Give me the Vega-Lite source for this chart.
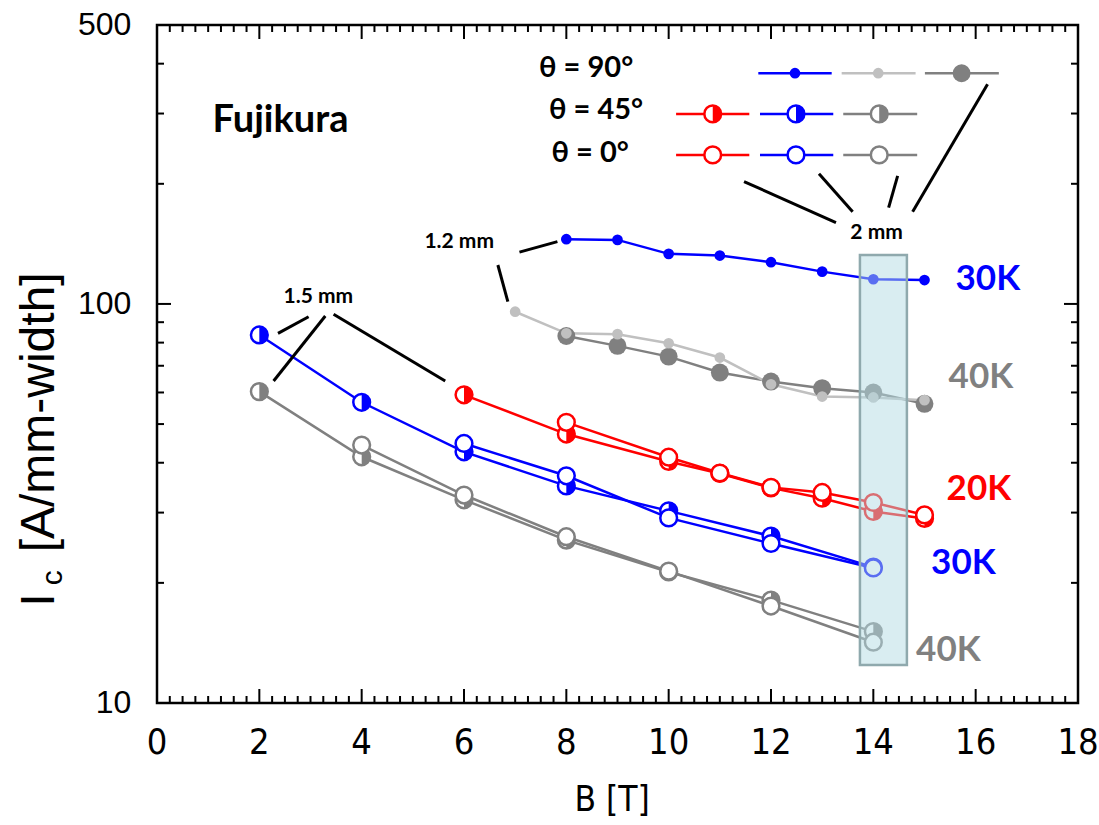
{
  "$schema": "https://vega.github.io/schema/vega-lite/v6.json",
  "width": 921,
  "height": 678,
  "autosize": "none",
  "padding": {"left": 157, "top": 25, "right": 21, "bottom": 122},
  "background": "white",
  "config": {
    "view": {"stroke": "black", "strokeWidth": 2.5},
    "axis": {"grid": false, "domain": false, "ticks": false}
  },
  "datasets": {
    "pts": [
      {"sid": "s1", "curve": "30K", "angle": "90", "B": 8, "Ic": 145.3},
      {"sid": "s1", "curve": "30K", "angle": "90", "B": 9, "Ic": 144.7},
      {"sid": "s1", "curve": "30K", "angle": "90", "B": 10, "Ic": 133.5},
      {"sid": "s1", "curve": "30K", "angle": "90", "B": 11, "Ic": 132.2},
      {"sid": "s1", "curve": "30K", "angle": "90", "B": 12, "Ic": 127.2},
      {"sid": "s1", "curve": "30K", "angle": "90", "B": 13, "Ic": 120.5},
      {"sid": "s1", "curve": "30K", "angle": "90", "B": 14, "Ic": 115.3},
      {"sid": "s1", "curve": "30K", "angle": "90", "B": 15, "Ic": 114.8},
      {"sid": "s3", "curve": "40K", "angle": "90", "B": 8, "Ic": 83.1},
      {"sid": "s3", "curve": "40K", "angle": "90", "B": 9, "Ic": 78.5},
      {"sid": "s3", "curve": "40K", "angle": "90", "B": 10, "Ic": 73.8},
      {"sid": "s3", "curve": "40K", "angle": "90", "B": 11, "Ic": 67.3},
      {"sid": "s3", "curve": "40K", "angle": "90", "B": 12, "Ic": 63.9},
      {"sid": "s3", "curve": "40K", "angle": "90", "B": 13, "Ic": 61.5},
      {"sid": "s3", "curve": "40K", "angle": "90", "B": 14, "Ic": 60.0},
      {"sid": "s3", "curve": "40K", "angle": "90", "B": 15, "Ic": 56.2},
      {"sid": "s2", "curve": "40K-1.2mm", "angle": "90", "B": 7, "Ic": 95.6},
      {"sid": "s2", "curve": "40K-1.2mm", "angle": "90", "B": 8, "Ic": 84.4},
      {"sid": "s2", "curve": "40K-1.2mm", "angle": "90", "B": 9, "Ic": 84.0},
      {"sid": "s2", "curve": "40K-1.2mm", "angle": "90", "B": 10, "Ic": 79.7},
      {"sid": "s2", "curve": "40K-1.2mm", "angle": "90", "B": 11, "Ic": 73.4},
      {"sid": "s2", "curve": "40K-1.2mm", "angle": "90", "B": 12, "Ic": 62.9},
      {"sid": "s2", "curve": "40K-1.2mm", "angle": "90", "B": 13, "Ic": 58.6},
      {"sid": "s2", "curve": "40K-1.2mm", "angle": "90", "B": 14, "Ic": 58.3},
      {"sid": "s2", "curve": "40K-1.2mm", "angle": "90", "B": 15, "Ic": 57.4},
      {"sid": "s4", "curve": "20K", "angle": "45", "B": 6, "Ic": 59.2},
      {"sid": "s4", "curve": "20K", "angle": "45", "B": 8, "Ic": 47.2},
      {"sid": "s4", "curve": "20K", "angle": "45", "B": 10, "Ic": 40.3},
      {"sid": "s4", "curve": "20K", "angle": "45", "B": 11, "Ic": 37.6},
      {"sid": "s4", "curve": "20K", "angle": "45", "B": 12, "Ic": 34.6},
      {"sid": "s4", "curve": "20K", "angle": "45", "B": 13, "Ic": 32.6},
      {"sid": "s4", "curve": "20K", "angle": "45", "B": 14, "Ic": 30.2},
      {"sid": "s4", "curve": "20K", "angle": "45", "B": 15, "Ic": 29.0},
      {"sid": "s5", "curve": "20K", "angle": "0", "B": 8, "Ic": 50.5},
      {"sid": "s5", "curve": "20K", "angle": "0", "B": 10, "Ic": 41.3},
      {"sid": "s5", "curve": "20K", "angle": "0", "B": 11, "Ic": 37.7},
      {"sid": "s5", "curve": "20K", "angle": "0", "B": 12, "Ic": 34.7},
      {"sid": "s5", "curve": "20K", "angle": "0", "B": 13, "Ic": 33.7},
      {"sid": "s5", "curve": "20K", "angle": "0", "B": 14, "Ic": 31.8},
      {"sid": "s5", "curve": "20K", "angle": "0", "B": 15, "Ic": 29.6},
      {"sid": "s6", "curve": "30K", "angle": "45", "B": 2, "Ic": 83.6},
      {"sid": "s6", "curve": "30K", "angle": "45", "B": 4, "Ic": 56.7},
      {"sid": "s6", "curve": "30K", "angle": "45", "B": 6, "Ic": 42.6},
      {"sid": "s6", "curve": "30K", "angle": "45", "B": 8, "Ic": 35.0},
      {"sid": "s6", "curve": "30K", "angle": "45", "B": 10, "Ic": 30.3},
      {"sid": "s6", "curve": "30K", "angle": "45", "B": 12, "Ic": 26.2},
      {"sid": "s6", "curve": "30K", "angle": "45", "B": 14, "Ic": 21.9},
      {"sid": "s7", "curve": "30K", "angle": "0", "B": 6, "Ic": 44.7},
      {"sid": "s7", "curve": "30K", "angle": "0", "B": 8, "Ic": 37.1},
      {"sid": "s7", "curve": "30K", "angle": "0", "B": 10, "Ic": 29.1},
      {"sid": "s7", "curve": "30K", "angle": "0", "B": 12, "Ic": 25.1},
      {"sid": "s7", "curve": "30K", "angle": "0", "B": 14, "Ic": 21.8},
      {"sid": "s8", "curve": "40K", "angle": "45", "B": 2, "Ic": 60.3},
      {"sid": "s8", "curve": "40K", "angle": "45", "B": 4, "Ic": 41.4},
      {"sid": "s8", "curve": "40K", "angle": "45", "B": 6, "Ic": 32.3},
      {"sid": "s8", "curve": "40K", "angle": "45", "B": 8, "Ic": 25.6},
      {"sid": "s8", "curve": "40K", "angle": "45", "B": 10, "Ic": 21.3},
      {"sid": "s8", "curve": "40K", "angle": "45", "B": 12, "Ic": 18.1},
      {"sid": "s8", "curve": "40K", "angle": "45", "B": 14, "Ic": 15.1},
      {"sid": "s9", "curve": "40K", "angle": "0", "B": 4, "Ic": 44.3},
      {"sid": "s9", "curve": "40K", "angle": "0", "B": 6, "Ic": 33.2},
      {"sid": "s9", "curve": "40K", "angle": "0", "B": 8, "Ic": 26.1},
      {"sid": "s9", "curve": "40K", "angle": "0", "B": 10, "Ic": 21.4},
      {"sid": "s9", "curve": "40K", "angle": "0", "B": 12, "Ic": 17.5},
      {"sid": "s9", "curve": "40K", "angle": "0", "B": 14, "Ic": 14.2},
      {"sid": "L1", "curve": "30K", "angle": "90", "B": 12.469, "Ic": 378.6},
      {"sid": "L3", "curve": "40K", "angle": "90", "B": 15.725, "Ic": 378.6},
      {"sid": "L2", "curve": "40K-1.2mm", "angle": "90", "B": 14.096, "Ic": 378.6},
      {"sid": "L4", "curve": "20K", "angle": "45", "B": 10.861, "Ic": 299.4},
      {"sid": "L5", "curve": "30K", "angle": "45", "B": 12.488, "Ic": 299.4},
      {"sid": "L6", "curve": "40K", "angle": "45", "B": 14.115, "Ic": 299.4},
      {"sid": "L7", "curve": "20K", "angle": "0", "B": 10.861, "Ic": 236.3},
      {"sid": "L8", "curve": "30K", "angle": "0", "B": 12.488, "Ic": 236.3},
      {"sid": "L9", "curve": "40K", "angle": "0", "B": 14.115, "Ic": 236.3}
    ],
    "leg": [
      {"curve": "30K", "x": 11.752, "x2": 13.186, "y": 378.6},
      {"curve": "40K-1.2mm", "x": 13.381, "x2": 14.826, "y": 378.6},
      {"curve": "40K", "x": 15.008, "x2": 16.453, "y": 378.6},
      {"curve": "20K", "x": 10.145, "x2": 11.576, "y": 299.4},
      {"curve": "30K", "x": 11.785, "x2": 13.217, "y": 299.4},
      {"curve": "40K", "x": 13.412, "x2": 14.857, "y": 299.4},
      {"curve": "20K", "x": 10.145, "x2": 11.576, "y": 236.3},
      {"curve": "30K", "x": 11.785, "x2": 13.217, "y": 236.3},
      {"curve": "40K", "x": 13.412, "x2": 14.857, "y": 236.3}
    ],
    "ann": [
      {"x": 2.365, "y": 84.4, "x2": 2.963, "y2": 92.9},
      {"x": 2.279, "y": 64.1, "x2": 3.289, "y2": 93.3},
      {"x": 3.451, "y": 94.2, "x2": 5.633, "y2": 64.1},
      {"x": 7.084, "y": 134.8, "x2": 7.826, "y2": 143.3},
      {"x": 6.662, "y": 125.2, "x2": 6.857, "y2": 101.3},
      {"x": 11.473, "y": 202.6, "x2": 13.27, "y2": 159.9},
      {"x": 12.938, "y": 211.8, "x2": 13.596, "y2": 170.3},
      {"x": 14.475, "y": 209.4, "x2": 14.299, "y2": 174.3},
      {"x": 16.232, "y": 355.3, "x2": 14.768, "y2": 170.3}
    ],
    "box": [{"x": 13.738, "x2": 14.656, "y": 12.45, "y2": 132.7}],
    "xt": [
      {"v": 0, "b1": 10, "b2": 10.842, "t1": 500, "t2": 461.2}, {"v": 2, "b1": 10, "b2": 10.842, "t1": 500, "t2": 461.2}, {"v": 4, "b1": 10, "b2": 10.842, "t1": 500, "t2": 461.2},
      {"v": 6, "b1": 10, "b2": 10.842, "t1": 500, "t2": 461.2}, {"v": 8, "b1": 10, "b2": 10.842, "t1": 500, "t2": 461.2}, {"v": 10, "b1": 10, "b2": 10.842, "t1": 500, "t2": 461.2},
      {"v": 12, "b1": 10, "b2": 10.842, "t1": 500, "t2": 461.2}, {"v": 14, "b1": 10, "b2": 10.842, "t1": 500, "t2": 461.2}, {"v": 16, "b1": 10, "b2": 10.842, "t1": 500, "t2": 461.2},
      {"v": 18, "b1": 10, "b2": 10.842, "t1": 500, "t2": 461.2},
      {"v": 0.25, "b1": 10, "b2": 10.412, "t1": 500, "t2": 480.2}, {"v": 0.5, "b1": 10, "b2": 10.412, "t1": 500, "t2": 480.2}, {"v": 0.75, "b1": 10, "b2": 10.412, "t1": 500, "t2": 480.2}, {"v": 1, "b1": 10, "b2": 10.412, "t1": 500, "t2": 480.2}, {"v": 1.25, "b1": 10, "b2": 10.412, "t1": 500, "t2": 480.2}, {"v": 1.5, "b1": 10, "b2": 10.412, "t1": 500, "t2": 480.2}, {"v": 1.75, "b1": 10, "b2": 10.412, "t1": 500, "t2": 480.2},
      {"v": 2.25, "b1": 10, "b2": 10.412, "t1": 500, "t2": 480.2}, {"v": 2.5, "b1": 10, "b2": 10.412, "t1": 500, "t2": 480.2}, {"v": 2.75, "b1": 10, "b2": 10.412, "t1": 500, "t2": 480.2}, {"v": 3, "b1": 10, "b2": 10.412, "t1": 500, "t2": 480.2}, {"v": 3.25, "b1": 10, "b2": 10.412, "t1": 500, "t2": 480.2}, {"v": 3.5, "b1": 10, "b2": 10.412, "t1": 500, "t2": 480.2}, {"v": 3.75, "b1": 10, "b2": 10.412, "t1": 500, "t2": 480.2},
      {"v": 4.25, "b1": 10, "b2": 10.412, "t1": 500, "t2": 480.2}, {"v": 4.5, "b1": 10, "b2": 10.412, "t1": 500, "t2": 480.2}, {"v": 4.75, "b1": 10, "b2": 10.412, "t1": 500, "t2": 480.2}, {"v": 5, "b1": 10, "b2": 10.412, "t1": 500, "t2": 480.2}, {"v": 5.25, "b1": 10, "b2": 10.412, "t1": 500, "t2": 480.2}, {"v": 5.5, "b1": 10, "b2": 10.412, "t1": 500, "t2": 480.2}, {"v": 5.75, "b1": 10, "b2": 10.412, "t1": 500, "t2": 480.2},
      {"v": 6.25, "b1": 10, "b2": 10.412, "t1": 500, "t2": 480.2}, {"v": 6.5, "b1": 10, "b2": 10.412, "t1": 500, "t2": 480.2}, {"v": 6.75, "b1": 10, "b2": 10.412, "t1": 500, "t2": 480.2}, {"v": 7, "b1": 10, "b2": 10.412, "t1": 500, "t2": 480.2}, {"v": 7.25, "b1": 10, "b2": 10.412, "t1": 500, "t2": 480.2}, {"v": 7.5, "b1": 10, "b2": 10.412, "t1": 500, "t2": 480.2}, {"v": 7.75, "b1": 10, "b2": 10.412, "t1": 500, "t2": 480.2},
      {"v": 8.25, "b1": 10, "b2": 10.412, "t1": 500, "t2": 480.2}, {"v": 8.5, "b1": 10, "b2": 10.412, "t1": 500, "t2": 480.2}, {"v": 8.75, "b1": 10, "b2": 10.412, "t1": 500, "t2": 480.2}, {"v": 9, "b1": 10, "b2": 10.412, "t1": 500, "t2": 480.2}, {"v": 9.25, "b1": 10, "b2": 10.412, "t1": 500, "t2": 480.2}, {"v": 9.5, "b1": 10, "b2": 10.412, "t1": 500, "t2": 480.2}, {"v": 9.75, "b1": 10, "b2": 10.412, "t1": 500, "t2": 480.2},
      {"v": 10.25, "b1": 10, "b2": 10.412, "t1": 500, "t2": 480.2}, {"v": 10.5, "b1": 10, "b2": 10.412, "t1": 500, "t2": 480.2}, {"v": 10.75, "b1": 10, "b2": 10.412, "t1": 500, "t2": 480.2}, {"v": 11, "b1": 10, "b2": 10.412, "t1": 500, "t2": 480.2}, {"v": 11.25, "b1": 10, "b2": 10.412, "t1": 500, "t2": 480.2}, {"v": 11.5, "b1": 10, "b2": 10.412, "t1": 500, "t2": 480.2}, {"v": 11.75, "b1": 10, "b2": 10.412, "t1": 500, "t2": 480.2},
      {"v": 12.25, "b1": 10, "b2": 10.412, "t1": 500, "t2": 480.2}, {"v": 12.5, "b1": 10, "b2": 10.412, "t1": 500, "t2": 480.2}, {"v": 12.75, "b1": 10, "b2": 10.412, "t1": 500, "t2": 480.2}, {"v": 13, "b1": 10, "b2": 10.412, "t1": 500, "t2": 480.2}, {"v": 13.25, "b1": 10, "b2": 10.412, "t1": 500, "t2": 480.2}, {"v": 13.5, "b1": 10, "b2": 10.412, "t1": 500, "t2": 480.2}, {"v": 13.75, "b1": 10, "b2": 10.412, "t1": 500, "t2": 480.2},
      {"v": 14.25, "b1": 10, "b2": 10.412, "t1": 500, "t2": 480.2}, {"v": 14.5, "b1": 10, "b2": 10.412, "t1": 500, "t2": 480.2}, {"v": 14.75, "b1": 10, "b2": 10.412, "t1": 500, "t2": 480.2}, {"v": 15, "b1": 10, "b2": 10.412, "t1": 500, "t2": 480.2}, {"v": 15.25, "b1": 10, "b2": 10.412, "t1": 500, "t2": 480.2}, {"v": 15.5, "b1": 10, "b2": 10.412, "t1": 500, "t2": 480.2}, {"v": 15.75, "b1": 10, "b2": 10.412, "t1": 500, "t2": 480.2},
      {"v": 16.25, "b1": 10, "b2": 10.412, "t1": 500, "t2": 480.2}, {"v": 16.5, "b1": 10, "b2": 10.412, "t1": 500, "t2": 480.2}, {"v": 16.75, "b1": 10, "b2": 10.412, "t1": 500, "t2": 480.2}, {"v": 17, "b1": 10, "b2": 10.412, "t1": 500, "t2": 480.2}, {"v": 17.25, "b1": 10, "b2": 10.412, "t1": 500, "t2": 480.2}, {"v": 17.5, "b1": 10, "b2": 10.412, "t1": 500, "t2": 480.2}, {"v": 17.75, "b1": 10, "b2": 10.412, "t1": 500, "t2": 480.2}
    ],
    "yt": [
      {"v": 100, "l1": 0, "l2": 0.2736, "r1": 18, "r2": 17.7264},
      {"v": 20, "l1": 0, "l2": 0.1368, "r1": 18, "r2": 17.8632}, {"v": 30, "l1": 0, "l2": 0.1368, "r1": 18, "r2": 17.8632}, {"v": 40, "l1": 0, "l2": 0.1368, "r1": 18, "r2": 17.8632},
      {"v": 50, "l1": 0, "l2": 0.1368, "r1": 18, "r2": 17.8632}, {"v": 60, "l1": 0, "l2": 0.1368, "r1": 18, "r2": 17.8632}, {"v": 70, "l1": 0, "l2": 0.1368, "r1": 18, "r2": 17.8632},
      {"v": 80, "l1": 0, "l2": 0.1368, "r1": 18, "r2": 17.8632}, {"v": 90, "l1": 0, "l2": 0.1368, "r1": 18, "r2": 17.8632}, {"v": 200, "l1": 0, "l2": 0.1368, "r1": 18, "r2": 17.8632},
      {"v": 300, "l1": 0, "l2": 0.1368, "r1": 18, "r2": 17.8632}, {"v": 400, "l1": 0, "l2": 0.1368, "r1": 18, "r2": 17.8632}
    ],
    "xl": [
      {"label": "0", "v": 0, "y": 7.94}, {"label": "2", "v": 2, "y": 7.94}, {"label": "4", "v": 4, "y": 7.94}, {"label": "6", "v": 6, "y": 7.94}, {"label": "8", "v": 8, "y": 7.94},
      {"label": "10", "v": 10, "y": 7.94}, {"label": "12", "v": 12, "y": 7.94}, {"label": "14", "v": 14, "y": 7.94}, {"label": "16", "v": 16, "y": 7.94}, {"label": "18", "v": 18, "y": 7.94}
    ],
    "yl": [
      {"label": "10", "v": 10, "x": -0.5}, {"label": "100", "v": 100, "x": -0.5}, {"label": "500", "v": 500, "x": -0.5}
    ],
    "txt": [
      {"role": "brand", "label": "Fujikura", "x": 2.414, "y": 287.5},
      {"role": "theta", "label": "θ = 90°", "x": 8.387, "y": 390.5},
      {"role": "theta", "label": "θ = 45°", "x": 8.582, "y": 306.4},
      {"role": "theta", "label": "θ = 0°", "x": 8.465, "y": 239.0},
      {"role": "note", "label": "1.5 mm", "x": 3.152, "y": 104.1},
      {"role": "note", "label": "1.2 mm", "x": 5.906, "y": 143.0},
      {"role": "note", "label": "2 mm", "x": 14.064, "y": 150.6},
      {"role": "temp", "curve": "30K", "label": "30K", "x": 16.238, "y": 115.5},
      {"role": "temp", "curve": "40K", "label": "40K", "x": 16.102, "y": 65.6},
      {"role": "temp", "curve": "20K", "label": "20K", "x": 16.063, "y": 34.4},
      {"role": "temp", "curve": "30K", "label": "30K", "x": 15.76, "y": 22.4},
      {"role": "temp", "curve": "40K", "label": "40K", "x": 15.467, "y": 13.6},
      {"role": "ytitle", "label": "I", "x": -2.277, "y": 18.1},
      {"role": "ysub", "label": "c", "x": -2.023, "y": 20.6},
      {"role": "ytitle", "label": "[A/mm-width]", "x": -2.277, "y": 53.5},
      {"role": "xtitle", "label": "B [T]", "x": 8.895, "y": 5.71}
    ]
  },
  "layer": [
    {
      "data": {"name": "pts"},
      "mark": {"type": "line", "strokeWidth": 2.5},
      "encoding": {
        "x": {"field": "B", "type": "quantitative", "scale": {"domain": [0, 18], "nice": false, "zero": false}, "axis": null},
        "y": {"field": "Ic", "type": "quantitative", "scale": {"type": "log", "domain": [10, 500], "nice": false}, "axis": null},
        "detail": {"field": "sid"},
        "color": {"field": "curve", "scale": {"domain": ["20K", "30K", "40K", "40K-1.2mm"], "range": ["#ff0000", "#0000ff", "#808080", "#c0c0c0"]}, "legend": null}
      }
    },
    {
      "data": {"name": "xt"},
      "mark": {"type": "rule", "strokeWidth": 2, "color": "black"},
      "encoding": {
        "x": {"field": "v", "type": "quantitative", "axis": null},
        "y": {"field": "b1", "type": "quantitative", "axis": null},
        "y2": {"field": "b2"}
      }
    },
    {
      "data": {"name": "xt"},
      "mark": {"type": "rule", "strokeWidth": 2, "color": "black"},
      "encoding": {
        "x": {"field": "v", "type": "quantitative", "axis": null},
        "y": {"field": "t1", "type": "quantitative", "axis": null},
        "y2": {"field": "t2"}
      }
    },
    {
      "data": {"name": "yt"},
      "mark": {"type": "rule", "strokeWidth": 2, "color": "black"},
      "encoding": {
        "y": {"field": "v", "type": "quantitative", "axis": null},
        "x": {"field": "l1", "type": "quantitative", "axis": null},
        "x2": {"field": "l2"}
      }
    },
    {
      "data": {"name": "yt"},
      "mark": {"type": "rule", "strokeWidth": 2, "color": "black"},
      "encoding": {
        "y": {"field": "v", "type": "quantitative", "axis": null},
        "x": {"field": "r1", "type": "quantitative", "axis": null},
        "x2": {"field": "r2"}
      }
    },
    {
      "data": {"name": "xl"},
      "mark": {"type": "text", "font": "Liberation Sans Narrow, DejaVu Sans Condensed, sans-serif", "fontSize": 36, "color": "black", "align": "center", "baseline": "middle"},
      "encoding": {
        "x": {"field": "v", "type": "quantitative", "axis": null},
        "y": {"field": "y", "type": "quantitative", "axis": null},
        "text": {"field": "label"}
      }
    },
    {
      "data": {"name": "yl"},
      "mark": {"type": "text", "font": "Liberation Sans, sans-serif", "fontSize": 32, "color": "black", "align": "right", "baseline": "middle"},
      "encoding": {
        "y": {"field": "v", "type": "quantitative", "axis": null},
        "x": {"field": "x", "type": "quantitative", "axis": null},
        "text": {"field": "label"}
      }
    },
    {
      "data": {"name": "leg"},
      "mark": {"type": "rule", "strokeWidth": 2.5},
      "encoding": {
        "x": {"field": "x", "type": "quantitative", "axis": null},
        "x2": {"field": "x2"},
        "y": {"field": "y", "type": "quantitative", "axis": null},
        "color": {"field": "curve", "scale": {"domain": ["20K", "30K", "40K", "40K-1.2mm"], "range": ["#ff0000", "#0000ff", "#808080", "#c0c0c0"]}, "legend": null}
      }
    },
    {
      "data": {"name": "pts"},
      "transform": [{"filter": "datum.angle == '45'"}],
      "mark": {"type": "point", "shape": "circle", "filled": false, "fill": "white", "fillOpacity": 1, "strokeWidth": 2.5, "size": 280, "opacity": 1},
      "encoding": {
        "x": {"field": "B", "type": "quantitative", "axis": null},
        "y": {"field": "Ic", "type": "quantitative", "axis": null},
        "stroke": {"field": "curve", "scale": {"domain": ["20K", "30K", "40K", "40K-1.2mm"], "range": ["#ff0000", "#0000ff", "#808080", "#c0c0c0"]}, "legend": null}
      }
    },
    {
      "data": {"name": "pts"},
      "transform": [{"filter": "datum.angle == '45'"}],
      "mark": {"type": "point", "shape": "M0,-1A1,1,0,0,1,0,1Z", "filled": true, "size": 280, "opacity": 1, "strokeWidth": 0},
      "encoding": {
        "x": {"field": "B", "type": "quantitative", "axis": null},
        "y": {"field": "Ic", "type": "quantitative", "axis": null},
        "fill": {"field": "curve", "scale": {"domain": ["20K", "30K", "40K", "40K-1.2mm"], "range": ["#ff0000", "#0000ff", "#808080", "#c0c0c0"]}, "legend": null}
      }
    },
    {
      "data": {"name": "pts"},
      "transform": [{"filter": "datum.angle == '0'"}],
      "mark": {"type": "point", "shape": "circle", "filled": false, "fill": "white", "fillOpacity": 1, "strokeWidth": 2.5, "size": 280, "opacity": 1},
      "encoding": {
        "x": {"field": "B", "type": "quantitative", "axis": null},
        "y": {"field": "Ic", "type": "quantitative", "axis": null},
        "stroke": {"field": "curve", "scale": {"domain": ["20K", "30K", "40K", "40K-1.2mm"], "range": ["#ff0000", "#0000ff", "#808080", "#c0c0c0"]}, "legend": null}
      }
    },
    {
      "data": {"name": "pts"},
      "transform": [{"filter": "datum.angle == '90' && datum.curve == '40K'"}],
      "mark": {"type": "point", "shape": "circle", "filled": true, "opacity": 1, "strokeWidth": 0, "size": 320, "color": "#808080"},
      "encoding": {
        "x": {"field": "B", "type": "quantitative", "axis": null},
        "y": {"field": "Ic", "type": "quantitative", "axis": null}
      }
    },
    {
      "data": {"name": "pts"},
      "transform": [{"filter": "datum.angle == '90' && datum.curve != '40K'"}],
      "mark": {"type": "point", "shape": "circle", "filled": true, "opacity": 1, "strokeWidth": 0, "size": 115},
      "encoding": {
        "x": {"field": "B", "type": "quantitative", "axis": null},
        "y": {"field": "Ic", "type": "quantitative", "axis": null},
        "fill": {"field": "curve", "scale": {"domain": ["20K", "30K", "40K", "40K-1.2mm"], "range": ["#ff0000", "#0000ff", "#808080", "#c0c0c0"]}, "legend": null}
      }
    },
    {
      "data": {"name": "box"},
      "mark": {"type": "rect", "fill": "#b3dbe3", "fillOpacity": 0.5, "stroke": "#8fa9ad", "strokeWidth": 2.5},
      "encoding": {
        "x": {"field": "x", "type": "quantitative", "axis": null},
        "x2": {"field": "x2"},
        "y": {"field": "y", "type": "quantitative", "axis": null},
        "y2": {"field": "y2"}
      }
    },
    {
      "data": {"name": "ann"},
      "mark": {"type": "rule", "strokeWidth": 3, "color": "black"},
      "encoding": {
        "x": {"field": "x", "type": "quantitative", "axis": null},
        "x2": {"field": "x2"},
        "y": {"field": "y", "type": "quantitative", "axis": null},
        "y2": {"field": "y2"}
      }
    },
    {
      "data": {"name": "txt"},
      "transform": [{"filter": "datum.role == 'brand'"}],
      "mark": {"type": "text", "font": "Lato", "fontWeight": "bold", "fontSize": 38, "color": "black", "align": "center", "baseline": "middle"},
      "encoding": {
        "x": {"field": "x", "type": "quantitative", "axis": null},
        "y": {"field": "y", "type": "quantitative", "axis": null},
        "text": {"field": "label"}
      }
    },
    {
      "data": {"name": "txt"},
      "transform": [{"filter": "datum.role == 'theta'"}],
      "mark": {"type": "text", "font": "Lato", "fontWeight": "bold", "fontSize": 29, "color": "black", "align": "center", "baseline": "middle"},
      "encoding": {
        "x": {"field": "x", "type": "quantitative", "axis": null},
        "y": {"field": "y", "type": "quantitative", "axis": null},
        "text": {"field": "label"}
      }
    },
    {
      "data": {"name": "txt"},
      "transform": [{"filter": "datum.role == 'note'"}],
      "mark": {"type": "text", "font": "Lato", "fontWeight": "bold", "fontSize": 21, "color": "black", "align": "center", "baseline": "middle"},
      "encoding": {
        "x": {"field": "x", "type": "quantitative", "axis": null},
        "y": {"field": "y", "type": "quantitative", "axis": null},
        "text": {"field": "label"}
      }
    },
    {
      "data": {"name": "txt"},
      "transform": [{"filter": "datum.role == 'temp'"}],
      "mark": {"type": "text", "font": "Lato", "fontWeight": "bold", "fontSize": 35, "align": "center", "baseline": "middle"},
      "encoding": {
        "x": {"field": "x", "type": "quantitative", "axis": null},
        "y": {"field": "y", "type": "quantitative", "axis": null},
        "text": {"field": "label"},
        "color": {"field": "curve", "scale": {"domain": ["20K", "30K", "40K", "40K-1.2mm"], "range": ["#ff0000", "#0000ff", "#808080", "#c0c0c0"]}, "legend": null}
      }
    },
    {
      "data": {"name": "txt"},
      "transform": [{"filter": "datum.role == 'xtitle'"}],
      "mark": {"type": "text", "font": "Liberation Sans Narrow, DejaVu Sans Condensed, sans-serif", "fontSize": 35, "color": "black", "align": "center", "baseline": "middle"},
      "encoding": {
        "x": {"field": "x", "type": "quantitative", "axis": null},
        "y": {"field": "y", "type": "quantitative", "axis": null},
        "text": {"field": "label"}
      }
    },
    {
      "data": {"name": "txt"},
      "transform": [{"filter": "datum.role == 'ytitle'"}],
      "mark": {"type": "text", "font": "Liberation Sans", "fontSize": 48, "color": "black", "align": "center", "baseline": "middle", "angle": 270},
      "encoding": {
        "x": {"field": "x", "type": "quantitative", "axis": null},
        "y": {"field": "y", "type": "quantitative", "axis": null},
        "text": {"field": "label"}
      }
    },
    {
      "data": {"name": "txt"},
      "transform": [{"filter": "datum.role == 'ysub'"}],
      "mark": {"type": "text", "font": "Liberation Sans", "fontSize": 30, "color": "black", "align": "center", "baseline": "middle", "angle": 270},
      "encoding": {
        "x": {"field": "x", "type": "quantitative", "axis": null},
        "y": {"field": "y", "type": "quantitative", "axis": null},
        "text": {"field": "label"}
      }
    }
  ]
}
